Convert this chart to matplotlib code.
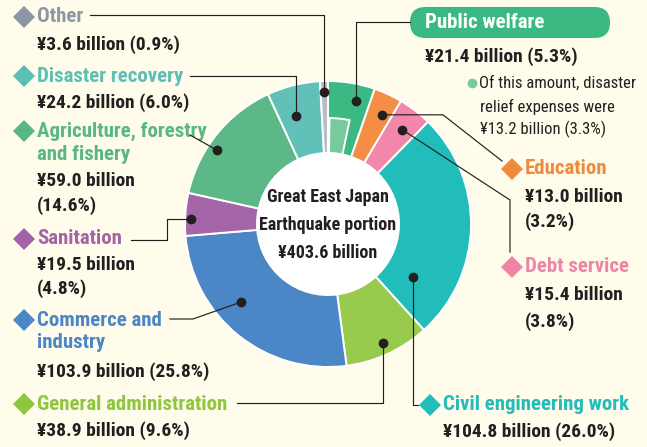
import numpy as np
import matplotlib
matplotlib.use("Agg")
import matplotlib.pyplot as plt
from matplotlib.patches import Wedge, FancyBboxPatch

W, H = 647, 447
BG = "#FFFCEB"
DARK = "#231F20"
FONT = ["Roboto Condensed", "Archivo Narrow", "Barlow Condensed",
        "Liberation Sans Narrow", "DejaVu Sans"]

# budget items, clockwise from 12 o'clock (billion yen)
categories = ["Public welfare", "Education", "Debt service", "Civil engineering work",
              "General administration", "Commerce and\nindustry", "Sanitation",
              "Agriculture, forestry\nand fishery", "Disaster recovery", "Other"]
values = [21.4, 13.0, 15.4, 104.8, 38.9, 103.9, 19.5, 59.0, 24.2, 3.6]
shares = [5.3, 3.2, 3.8, 26.0, 9.6, 25.8, 4.8, 14.6, 6.0, 0.9]
relief_value = 13.2
relief_share = 3.3
total = 403.6

colors = ["#3BB982", "#F58E45", "#F287A9", "#22BCBB", "#98CA4E",
          "#4B87C6", "#A466A9", "#5DB887", "#61C0B7", "#B8BDC4"]
label_colors = ["#3BB982", "#F08A3C", "#EE85A9", "#22BCBB", "#8DC63F",
                "#4A86C8", "#A463A9", "#5AB683", "#5BBFB8", "#8C97A3"]
relief_color = "#78CA9D"

# layout (pixels) --------------------------------------------------------
CX, CY, R_OUT, R_IN = 328, 224, 143, 71

# dot on each wedge: (fraction along the wedge, clockwise; radius)
dot_pos = [(0.68, 126), (0.64, 122), (0.54, 120), (0.83, 100), (0.5, 131),
           (0.6, 117), (0.39, 137), (0.4, 133), (0.38, 113), (0.44, 132)]
# leader routes after the dot; None = keep dot coordinate
routes = [
    [(None, 22), (410, 22)],
    [(443, None), (502, 161)],
    [(510, 200), (510, 252)],
    [(None, 405), (418, 405)],
    [(None, 403), (237, 403)],
    [(193, 319), (170, 319)],
    [(167, None), (167, 240), (131, 240)],
    [(190, 135)],
    [(None, 76), (190, 76)],
    [(None, 15), (90, 15)],
]
# label: (diamond x, y of name, y of value lines)
label_pos = [
    None,
    (512, 169, [197, 222]),
    (512, 267, [295, 322]),
    (430, 405, [432]),
    (24, 404, [431]),
    (24, 320, [372]),
    (24, 239, [265, 289]),
    (24, 131, [181, 206]),
    (24, 76, [103]),
    (24, 17, [45]),
]
value_text = [
    None,
    ["¥13.0 billion", "(3.2%)"],
    ["¥15.4 billion", "(3.8%)"],
    ["¥104.8 billion (26.0%)"],
    ["¥38.9 billion (9.6%)"],
    ["¥103.9 billion (25.8%)"],
    ["¥19.5 billion", "(4.8%)"],
    ["¥59.0 billion", "(14.6%)"],
    ["¥24.2 billion (6.0%)"],
    ["¥3.6 billion (0.9%)"],
]

fig = plt.figure(figsize=(W / 100, H / 100), dpi=100, facecolor=BG)
ax = fig.add_axes([0, 0, 1, 1])
ax.set_facecolor(BG)

# y axis is inverted below, so startangle=-90 / counterclock=True
# shows as "from the top, clockwise"
ax.pie(values, colors=colors, startangle=-90, counterclock=True,
       center=(CX, CY), radius=R_OUT,
       wedgeprops=dict(width=R_OUT - R_IN, edgecolor="white", linewidth=1.4))

# disaster relief part of public welfare
rel_deg = relief_value / sum(values) * 360
ax.add_patch(Wedge((CX, CY), 106, -90 + 0.8, -90 + rel_deg, width=106 - R_IN,
                   facecolor=relief_color, edgecolor="white", linewidth=1.4))

ax.add_patch(plt.Circle((CX, CY), R_IN - 0.5, color="white", zorder=3))
for yy, s in zip([197, 225, 253], ["Great East Japan", "Earthquake portion",
                                   "¥{:.1f} billion".format(total)]):
    ax.text(CX, yy, s, ha="center", va="center", fontsize=13, fontweight="bold",
            color=DARK, family=FONT, zorder=4)

# dots and leaders
edges = np.concatenate([[0], np.cumsum(values)]) / sum(values) * 360
for i in range(len(values)):
    frac, rr = dot_pos[i]
    ang = edges[i] + frac * (edges[i + 1] - edges[i])
    dx = CX + rr * np.sin(np.radians(ang))
    dy = CY - rr * np.cos(np.radians(ang))
    xs, ys = [dx], [dy]
    for px, py in routes[i]:
        xs.append(dx if px is None else px)
        ys.append(dy if py is None else py)
    ax.plot(xs, ys, color=DARK, lw=0.85, zorder=5)
    ax.plot(dx, dy, "o", color=DARK, ms=6, zorder=6)

# labels
for i in range(1, len(values)):
    mx, ny, vys = label_pos[i]
    ax.plot(mx, ny, "D", color=label_colors[i], ms=11, mew=0, zorder=5)
    lines = categories[i].split("\n")
    for k, ln in enumerate(lines):
        ax.text(mx + 13, ny + k * 23, ln, ha="left", va="center", fontsize=15,
                fontweight="bold", color=label_colors[i], family=FONT)
    for vy, vt in zip(vys, value_text[i]):
        ax.text(mx + 13, vy, vt, ha="left", va="center", fontsize=14,
                fontweight="bold", color=DARK, family=FONT)

# public welfare badge
ax.add_patch(FancyBboxPatch((410, 7), 200, 31,
                            boxstyle="round,pad=0,rounding_size=15.5",
                            facecolor=label_colors[0], edgecolor="none"))
ax.text(425, 22.5, categories[0], ha="left", va="center", fontsize=15,
        fontweight="bold", color="white", family=FONT)
ax.text(425, 57, "¥{:.1f} billion ({:.1f}%)".format(values[0], shares[0]),
        ha="left", va="center", fontsize=14, fontweight="bold", color=DARK, family=FONT)
ax.plot(472, 83, "o", color=relief_color, ms=7, mew=0)
note = ["Of this amount, disaster", "relief expenses were",
        "¥{:.1f} billion ({:.1f}%)".format(relief_value, relief_share)]
for yy, s in zip([83, 107, 129], note):
    ax.text(479 if yy == 83 else 480, yy, s, ha="left", va="center", fontsize=12,
            color=DARK, family=FONT)

ax.set_xlim(0, W)
ax.set_ylim(H, 0)
ax.set_aspect("auto")
ax.axis("off")

fig.savefig("out.png", dpi=100, facecolor=BG)
